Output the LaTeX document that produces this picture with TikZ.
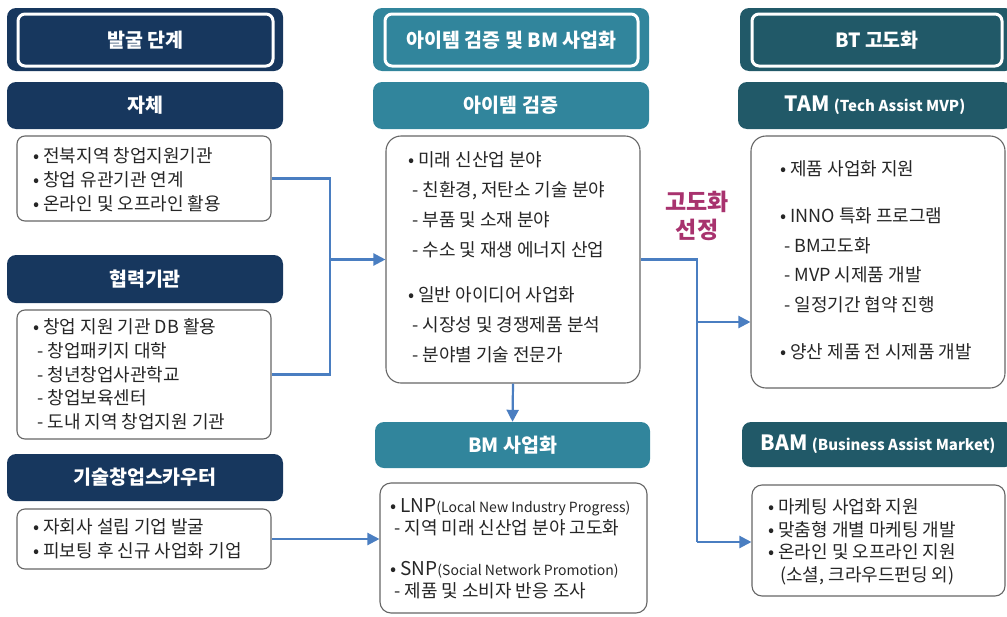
\documentclass[tikz,border=0pt]{standalone}
\usepackage{fontspec}
\setmainfont{Noto Sans CJK KR}
\usetikzlibrary{arrows.meta}
\definecolor{cNavy}{HTML}{17375E}
\definecolor{cTealA}{HTML}{31859C}
\definecolor{cTealB}{HTML}{215968}
\definecolor{cGray}{HTML}{666666}
\definecolor{cText}{HTML}{262626}
\definecolor{cBlue}{HTML}{4A7EC1}
\definecolor{cMag}{HTML}{A8326E}
\newcommand{\dashln}{\hspace*{4pt}- }
\tikzset{
  hdrbox/.style={rounded corners=9pt, inner sep=0pt, text=white, font=\bfseries\fontsize{19.5}{22}\selectfont},
  hdrin/.style={draw=white, line width=3pt, rounded corners=7pt, inner sep=0pt, text=white, font=\bfseries\fontsize{19.5}{22}\selectfont},
  bodybox/.style={draw=cGray, line width=1.1pt, fill=white, rounded corners=8pt, inner sep=0pt},
  bodytext/.style={anchor=north west, inner sep=0pt, align=left, text=cText},
  conn/.style={draw=cBlue, line width=2.2pt},
  arr/.style={conn, -{Triangle[length=12pt,width=12pt]}}
}
\begin{document}
\begin{tikzpicture}[x=1pt,y=-1pt]
\useasboundingbox (0,0) rectangle (1007,616);
% ---------- left column ----------
\node[hdrbox, fill=cNavy, minimum width=276, minimum height=63] (h1) at (145,39.5) {};
\node[hdrin, minimum width=255, minimum height=52] (h1i) at (145.5,40) {발굴 단계};
\node[hdrbox, fill=cNavy, minimum width=276, minimum height=47] (s1) at (145,105.5) {자체};
\node[bodybox, minimum width=254, minimum height=85] (b1) at (144,178.5) {};
\node[bodytext, font=\fontsize{18}{24}\selectfont] (t1) at (33,147.5) {• 전북지역 창업지원기관\\• 창업 유관기관 연계\\• 온라인 및 오프라인 활용};
\node[hdrbox, fill=cNavy, minimum width=276, minimum height=48] (s2) at (145,279) {협력기관};
\node[bodybox, minimum width=254, minimum height=129] (b2) at (144,374.5) {};
\node[bodytext, font=\fontsize{18}{23.75}\selectfont] (t2) at (33,318.5) {• 창업 지원 기관 DB 활용\\\dashln 창업패키지 대학\\\dashln 청년창업사관학교\\\dashln 창업보육센터\\\dashln 도내 지역 창업지원 기관};
\node[hdrbox, fill=cNavy, minimum width=276, minimum height=47] (s3) at (145,477.5) {기술창업스카우터};
\node[bodybox, minimum width=254, minimum height=60] (b3) at (144,539) {};
\node[bodytext, font=\fontsize{18}{24}\selectfont] (t3) at (33,518.5) {• 자회사 설립 기업 발굴\\• 피보팅 후 신규 사업화 기업};
% ---------- middle column ----------
\node[hdrbox, fill=cTealA, minimum width=276, minimum height=63] (h2) at (511,39.5) {};
\node[hdrin, minimum width=253, minimum height=52] (h2i) at (511.5,40) {아이템 검증 및 BM 사업화};
\node[hdrbox, fill=cTealA, minimum width=276, minimum height=47] (s4) at (511,105.5) {아이템 검증};
\node[bodybox, rounded corners=15pt, minimum width=254, minimum height=247] (b4) at (513,259.5) {};
\node[bodytext, font=\fontsize{18}{30}\selectfont] (t4) at (408,151.5) {• 미래 신산업 분야\\\dashln 친환경, 저탄소 기술 분야\\\dashln 부품 및 소재 분야\\\dashln 수소 및 재생 에너지 산업\\[15pt]• 일반 아이디어 사업화\\\dashln 시장성 및 경쟁제품 분석\\\dashln 분야별 기술 전문가};
\node[hdrbox, fill=cTealA, minimum width=275, minimum height=46] (s5) at (512.5,445) {BM 사업화};
\node[bodybox, rounded corners=11pt, minimum width=267, minimum height=130] (b5) at (513.5,548) {};
\node[bodytext, font=\fontsize{18}{21.5}\selectfont] (t5) at (390,498.5) {• {\fontsize{19}{21}\selectfont LNP}{\fontsize{14}{16}\selectfont(Local New Industry Progress)}\\\dashln 지역 미래 신산업 분야 고도화\\[20pt]• {\fontsize{19}{21}\selectfont SNP}{\fontsize{14}{16}\selectfont(Social Network Promotion)}\\\dashln 제품 및 소비자 반응 조사};
% ---------- right column ----------
\node[hdrbox, fill=cTealB, minimum width=274, minimum height=63] (h3) at (877,39.5) {};
\node[hdrin, minimum width=250, minimum height=52] (h3i) at (877,40) {BT 고도화};
\node[hdrbox, fill=cTealB, minimum width=274, minimum height=47] (s6) at (875,105.5) {{\fontsize{21}{24}\selectfont TAM} {\fontsize{15}{18}\selectfont (Tech Assist MVP)}};
\node[bodybox, rounded corners=15pt, minimum width=254, minimum height=252] (b6) at (878,262) {};
\node[bodytext, font=\fontsize{18}{29.5}\selectfont] (t6) at (780,160.5) {• 제품 사업화 지원\\[17.5pt]• INNO 특화 프로그램\\\dashln BM고도화\\\dashln MVP 시제품 개발\\\dashln 일정기간 협약 진행\\[18pt]• 양산 제품 전 시제품 개발};
\node[hdrbox, fill=cTealB, minimum width=272, minimum height=45] (s7) at (878,444.5) {{\fontsize{21}{24}\selectfont BAM} {\fontsize{15}{18}\selectfont (Business Assist Market)}};
\node[bodybox, rounded corners=10pt, minimum width=253, minimum height=111] (b7) at (878.5,540.5) {};
\node[bodytext, font=\fontsize{18}{22.5}\selectfont] (t7) at (768,498.5) {• 마케팅 사업화 지원\\• 맞춤형 개별 마케팅 개발\\• 온라인 및 오프라인 지원\\\hspace*{12pt}(소셜, 크라우드펀딩 외)};
% ---------- label ----------
\node[font=\bfseries\fontsize{23}{28}\selectfont, text=cMag, align=center] (sel) at (697,216) {고도화\\선정};
% ---------- connectors ----------
\coordinate (j1) at (330,259.5);
\coordinate (j2) at (697,322);
\coordinate (j3) at (697,542);
\draw[conn] (b1.east) -| (j1);
\draw[conn] (b2.east) -| (j1);
\draw[arr] (j1) -- (b4.west);
\draw[arr] (b3.east) -- (b3.east -| b5.west);
\draw[arr] (b4.south) -- (s5.north);
\draw[conn] (b4.east) -| (j3);
\draw[arr] (j3) -- (j3 -| b7.west);
\draw[arr] (j2) -- (j2 -| b6.west);
\end{tikzpicture}
\end{document}
